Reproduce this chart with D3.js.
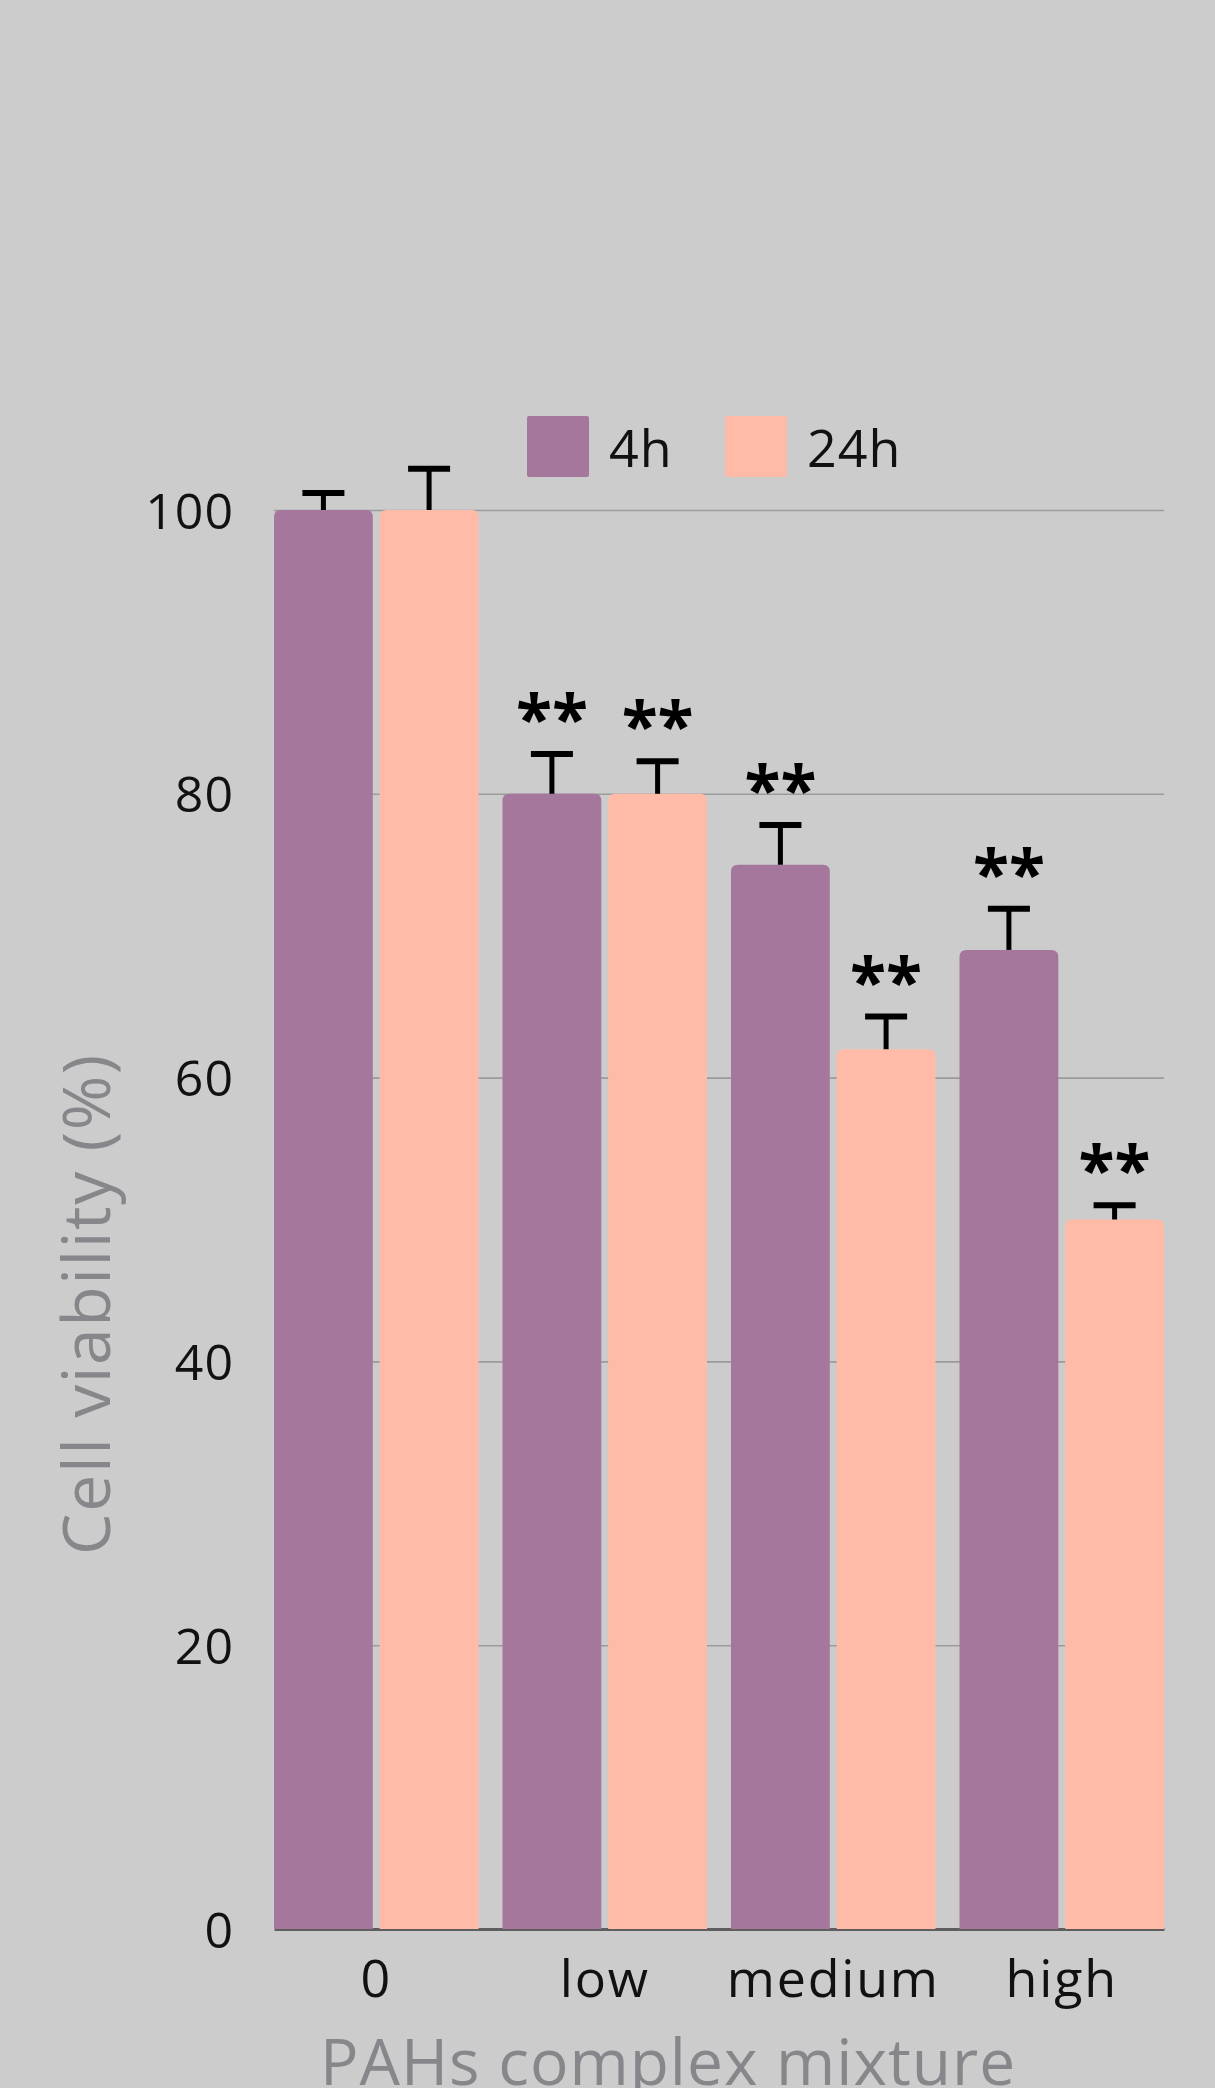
<!DOCTYPE html>
<html>
<head>
<meta charset="utf-8">
<script src="https://cdn.jsdelivr.net/npm/d3@7"></script>
<style>
  body { margin: 0; background: #cccccc; }
  text { font-family: 'Open Sans', sans-serif; }
</style>
</head>
<body>
<div class="chart"></div>
<script>
const width = 1215;
const height = 2088;

// data
const categories = ['0', 'low', 'medium', 'high'];
const series = ['4h', '24h'];
const means4h = [100, 80, 75, 69];
const means24h = [100, 80, 62, 50];
const err4h = [1.2, 2.8, 2.8, 2.9];
const err24h = [2.9, 2.3, 2.3, 1.0];
const sig4h = ['', '**', '**', '**'];
const sig24h = ['', '**', '**', '**'];
const yTicks = [0, 20, 40, 60, 80, 100];
const colors = ['#a5779c', '#ffbba8'];

const plot = { left: 274, right: 1164, top: 510, bottom: 1929 };

const svg = d3.select('.chart').append('svg')
    .attr('width', width)
    .attr('height', height)
    .attr('viewBox', `0 0 ${width} ${height}`);

svg.append('rect').attr('width', width).attr('height', height).attr('fill', '#cccccc');

const yScale = d3.scaleLinear().domain([0, 100]).range([plot.bottom, plot.top]);
const xScale = d3.scaleBand().domain(categories)
    .range([plot.left, plot.right])
    .paddingInner(0.105).paddingOuter(0);
const xSub = d3.scaleBand().domain(series)
    .range([0, xScale.bandwidth()])
    .paddingInner(0.065);

// rows for each bar
const rows = [];
categories.forEach((c, i) => {
    rows.push({ cat: c, s: '4h', v: means4h[i], e: err4h[i], sig: sig4h[i], col: colors[0] });
    rows.push({ cat: c, s: '24h', v: means24h[i], e: err24h[i], sig: sig24h[i], col: colors[1] });
});

/* gridlines */
svg.append('g').attr('class', 'grid')
    .attr('transform', `translate(${plot.left},0)`)
    .call(d3.axisLeft(yScale).tickValues(yTicks.filter(t => t > 0)).tickSize(-(plot.right - plot.left)).tickFormat(''))
    .call(g => g.select('.domain').remove())
    .call(g => g.selectAll('line').attr('stroke', '#9b9b9b').attr('stroke-width', 1.6));

/* baseline */
svg.append('g')
    .attr('transform', `translate(0,${plot.bottom})`)
    .call(d3.axisBottom(xScale).tickSize(0).tickFormat(''))
    .call(g => g.select('.domain').attr('stroke', '#5e5e5e').attr('stroke-width', 3));

/* y tick labels */
svg.append('g')
    .attr('transform', `translate(234,0)`)
    .call(d3.axisLeft(yScale).tickValues(yTicks).tickSize(0).tickPadding(0))
    .call(g => g.select('.domain').remove())
    .call(g => g.selectAll('text')
        .attr('font-size', 50)
        .attr('fill', '#111')
        .attr('font-family', "'Open Sans', sans-serif")
        .attr('letter-spacing', 1)
        .attr('dy', '0.36em'));

/* category labels */
svg.append('g')
    .attr('transform', `translate(0,${plot.bottom})`)
    .call(d3.axisBottom(xScale).tickSize(0).tickPadding(0))
    .call(g => g.select('.domain').remove())
    .call(g => g.selectAll('text')
        .attr('font-size', 52)
        .attr('fill', '#111')
        .attr('font-family', "'Open Sans', sans-serif")
        .attr('letter-spacing', 1.8)
        .attr('dy', null)
        .attr('y', 68));

/* bars with rounded top corners */
const r = 7;
function barPath(x, y, w, h) {
    return `M${x},${y + h}V${y + r}Q${x},${y} ${x + r},${y}H${x + w - r}Q${x + w},${y} ${x + w},${y + r}V${y + h}Z`;
}
const barGroups = svg.append('g').selectAll('g')
    .data(rows)
    .enter()
    .append('g');
barGroups.append('path')
    .attr('fill', d => d.col)
    .attr('d', d => {
        const x = xScale(d.cat) + xSub(d.s);
        const y = yScale(d.v);
        return barPath(x, y, xSub.bandwidth(), plot.bottom - y);
    });

/* error bars */
const capW = 42;
barGroups.append('line')
    .attr('x1', d => xScale(d.cat) + xSub(d.s) + xSub.bandwidth() / 2)
    .attr('x2', d => xScale(d.cat) + xSub(d.s) + xSub.bandwidth() / 2)
    .attr('y1', d => yScale(d.v))
    .attr('y2', d => yScale(d.v + d.e))
    .attr('stroke', '#000').attr('stroke-width', 5);
barGroups.append('line')
    .attr('x1', d => xScale(d.cat) + xSub(d.s) + xSub.bandwidth() / 2 - capW / 2)
    .attr('x2', d => xScale(d.cat) + xSub(d.s) + xSub.bandwidth() / 2 + capW / 2)
    .attr('y1', d => yScale(d.v + d.e))
    .attr('y2', d => yScale(d.v + d.e))
    .attr('stroke', '#000').attr('stroke-width', 6);

/* significance stars */
barGroups.append('text')
    .text(d => d.sig)
    .attr('text-anchor', 'middle')
    .attr('font-size', 66)
    .style('font-weight', 700)
    .attr('fill', '#000')
    .attr('x', d => xScale(d.cat) + xSub(d.s) + xSub.bandwidth() / 2)
    .attr('y', d => yScale(d.v + d.e) - 52)
    .attr('dy', '0.62em');

/* legend */
const legend = svg.append('g').attr('transform', 'translate(527,416)');
const legendX = [0, 198];
series.forEach((s, i) => {
    legend.append('rect')
        .attr('x', legendX[i]).attr('y', 0)
        .attr('width', 62).attr('height', 61)
        .attr('rx', 2)
        .attr('fill', colors[i]);
    legend.append('text')
        .attr('x', legendX[i] + 82).attr('y', 51)
        .attr('font-size', 52)
        .attr('letter-spacing', 1)
        .attr('fill', '#111')
        .text(s);
});

/* axis titles */
svg.append('text')
    .attr('x', 668).attr('y', 2085)
    .attr('text-anchor', 'middle')
    .attr('font-size', 64)
    .attr('letter-spacing', 1)
    .attr('fill', '#87868b')
    .text('PAHs complex mixture');
svg.append('text')
    .attr('transform', 'translate(110,1304) rotate(-90)')
    .attr('text-anchor', 'middle')
    .attr('font-size', 66)
    .attr('letter-spacing', 1.6)
    .attr('fill', '#87868b')
    .text('Cell viability (%)');
</script>
</body>
</html>
